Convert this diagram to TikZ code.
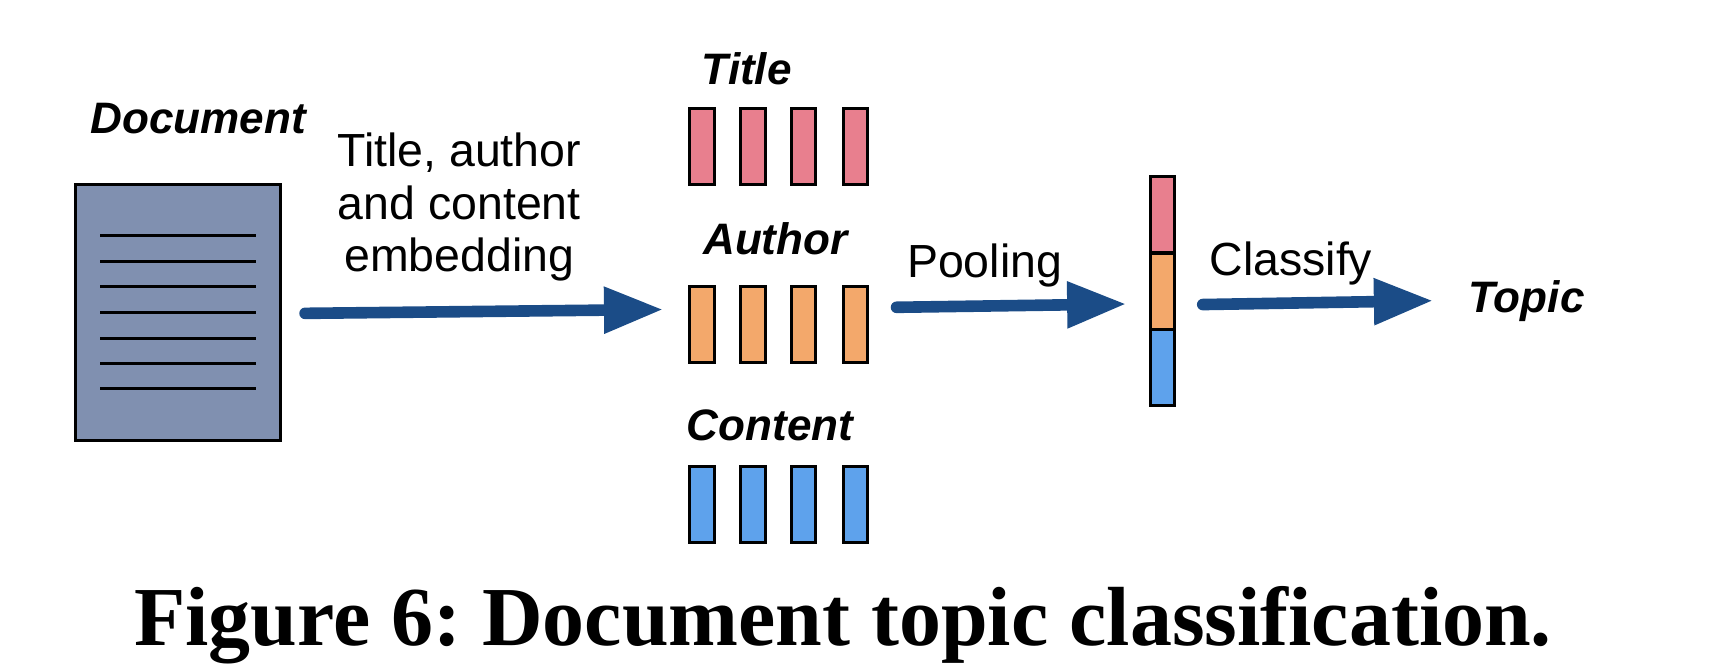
\documentclass[tikz,border=0pt]{standalone}
\usepackage{fontspec}
\setmainfont{Liberation Sans}
\newfontfamily\capfont{Liberation Serif}
\usetikzlibrary{arrows.meta}
\definecolor{docfill}{HTML}{8090B0}
\definecolor{pinkc}{HTML}{E87F8E}
\definecolor{orangec}{HTML}{F3A86B}
\definecolor{bluec}{HTML}{5EA2EC}
\definecolor{arrowc}{HTML}{1B4C87}
\tikzset{
  box/.style={draw=black,line width=1.5pt,inner sep=0pt,outer sep=0pt},
  bar/.style={box,minimum width=12.2pt,minimum height=38pt},
  cell/.style={box,minimum width=12.2pt,minimum height=38pt},
  plain/.style={font=\fontsize{23.2}{26.2}\selectfont,inner sep=0pt,align=center},
  head/.style={font=\bfseries\itshape\fontsize{22}{24}\selectfont,inner sep=0pt},
  rule/.style={line width=1.5pt,black},
  flow/.style={line width=5.8pt,arrowc,line cap=round,-{Triangle[length=29.5pt,width=22pt]}}
}
\begin{document}
\frenchspacing
\begin{tikzpicture}[x=0.55pt,y=-0.55pt]
\useasboundingbox (0,0) rectangle (1568,610);
\node[box,fill=docfill,minimum width=102.2pt,minimum height=127.8pt] (doc) at (161.5,283.5) {};
\foreach \i/\y in {1/214,2/237,3/260,4/284,5/307,6/330,7/353}{
  \coordinate (l\i a) at (91,\y);
  \coordinate (l\i b) at (232,\y);
  \draw[rule] (l\i a) -- (l\i b);
}
\node[head] (ldoc) at (180,108) {Document};
\node[plain] (lemb) at (417,188) {Title, author\\and content\\embedding};
\foreach \n/\x in {1/637.5,2/683.5,3/729.5,4/776.5}{
  \node[bar,fill=pinkc] (t\n) at (\x,133) {};
  \node[bar,fill=orangec] (a\n) at (\x,295) {};
  \node[bar,fill=bluec] (c\n) at (\x,458) {};
}
\node[head] (ltitle) at (678,62) {Title};
\node[head] (lauthor) at (704,217) {Author};
\node[head] (lcontent) at (699,386) {Content};
\node[cell,fill=pinkc] (s1) at (1055.5,195) {};
\node[cell,fill=orangec] (s2) at (1055.5,264.5) {};
\node[cell,fill=bluec] (s3) at (1055.5,334) {};
\coordinate (e1a) at (277,284.5);
\coordinate (e1b) at (602,281);
\coordinate (e2a) at (814,279);
\coordinate (e2b) at (1022.5,276);
\coordinate (e3a) at (1092,276.5);
\coordinate (e3b) at (1301,273);
\draw[flow] (e1a) -- (e1b);
\draw[flow] (e2a) -- (e2b);
\draw[flow] (e3a) -- (e3b);
\node[plain] (lpool) at (894,241) {Pooling};
\node[plain] (lclass) at (1172,239) {Classify};
\node[head] (ltopic) at (1386,273) {Topic};
\node[inner sep=0pt,font=\capfont\bfseries\fontsize{41.9}{45}\selectfont] (cap) at (765.5,568) {Figure 6: Document topic classification.};
\end{tikzpicture}
\end{document}
